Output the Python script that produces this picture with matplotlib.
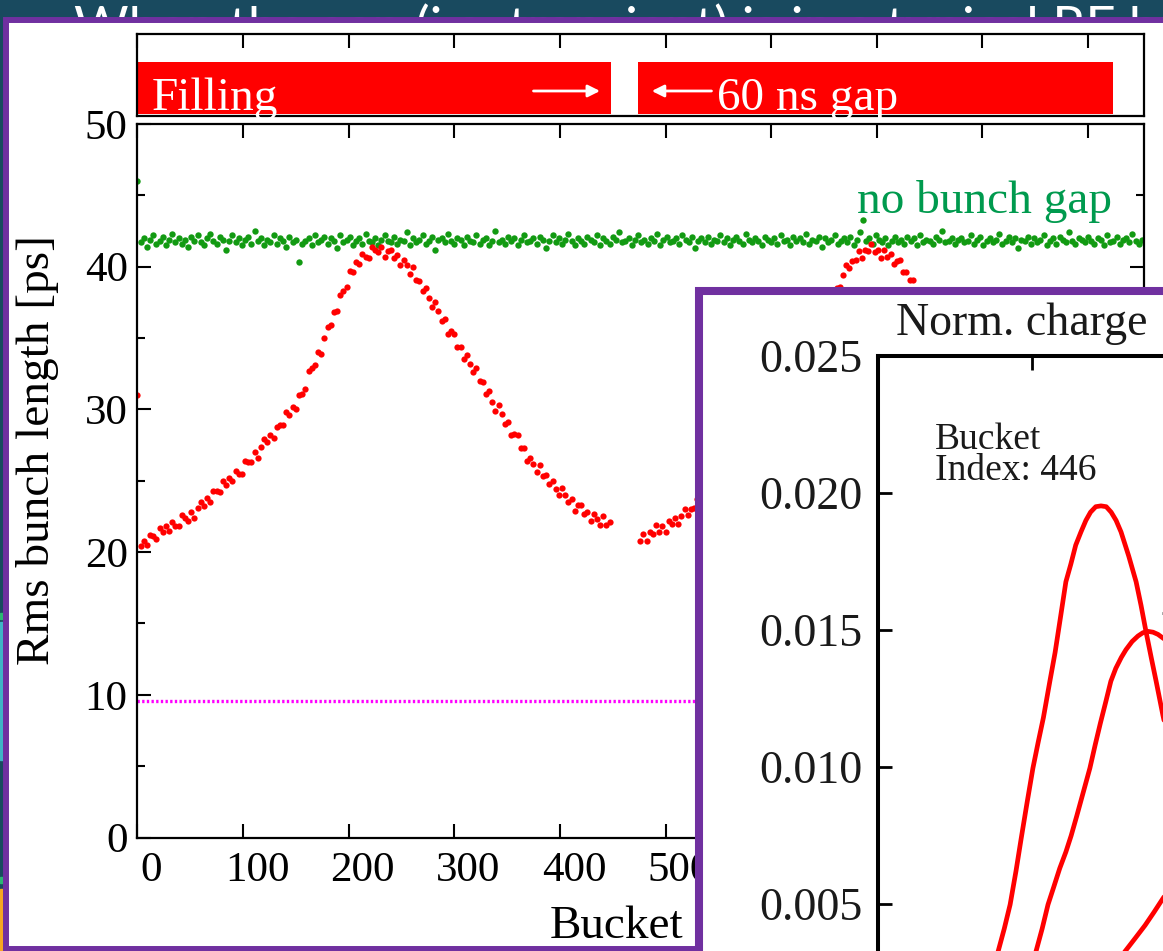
import numpy as np
import matplotlib
matplotlib.use("Agg")
import matplotlib.pyplot as plt
from matplotlib.patches import Rectangle
from matplotlib.ticker import MultipleLocator, FormatStrFormatter
from matplotlib.transforms import ScaledTranslation

plt.rcParams['font.family'] = ['Liberation Serif', 'DejaVu Serif']

W, H = 1163, 951          # picture size in pixels
DPI = 100

# ==============================================================================
# DATA
# ==============================================================================
n_buckets = 953
filling_start = [0, 474]
filling_end = [448, 924]

bucket_step = 3

# rms bunch length without gap, in tenths of ps, every 3rd bucket from 0
green_tenths = """
460 417 420 414 419 422 416 418 421 415 419 423 417 420 416 419 414 421 418 422
417 415 420 423 418 416 421 419 412 418 422 417 420 415 419 421 416 425 418 420
415 419 417 422 416 420 418 414 421 417 419 403 416 418 420 415 422 417 419 421
416 420 418 413 422 417 419 421 415 418 420 416 423 418 417 420 415 419 422 418
417 421 416 419 418 424 415 420 417 419 422 416 418 421 412 419 420 417 423 418
416 420 419 415 421 418 417 422 416 419 420 415 418 425 417 419 416 421 418 420
415 419 422 417 418 420 416 421 419 413 418 422 417 420 416 419 423 418 415 420
418 416 421 419 417 422 415 420 418 416 421 419 424 417 418 420 415 419 422 417
419 416 420 418 423 415 419 421 417 418 420 416 422 419 417 421 413 418 420 417
421 416 419 418 422 417 420 415 419 421 418 416 423 419 417 420 418 415 421 419
417 420 416 422 418 419 415 421 418 420 417 423 416 419 418 421 414 420 417 419
422 416 418 420 417 421 415 419 424 433 418 420 416 422 419 417 420 415 418 421
417 419 416 421 418 420 415 422 417 419 418 416 421 419 425 417 418 420 416 419
420 417 418 422 416 419 421 415 418 420 417 419 423 416 418 421 417 420 413 419
418 421 416 420 417 419 422 415 418 420 416 421 419 417 424 418 416 420 419 417
421 418 416 420 419 415 422 417 418 421 416 419 420 417 423 418 416 419
"""
green_rms = np.array(green_tenths.split(), float) / 10
green_bucket = np.arange(len(green_rms)) * bucket_step

# with 60 ns gap: first filled train (buckets 0..447)
red1_tenths = """
310 204 208 205 212 211 209 217 214 218 215 221 218 218 226 224 222 228 224 231
235 232 238 235 243 243 242 250 247 252 250 257 255 255 264 263 263 270 266 274
279 277 282 280 288 289 289 298 296 302 300 310 311 314 327 329 331 340 339 350
358 359 368 369 380 383 386 397 396 403 402 409 407 406 414 412 410 414 407 411
412 406 408 401 405 401 395 400 391 390 383 385 378 372 375 369 362 363 353 355
353 344 344 335 338 332 326 329 320 319 311 313 305 299 303 297 290 291 282 283
282 273 273 264 266 262 256 261 253 254 248 250 244 240 245 240 235 237 229 233
233 227 228 222 227 223 219 225 219 221
"""
red1_rms = np.array(red1_tenths.split(), float) / 10
red1_bucket = 0 + np.arange(len(red1_rms)) * bucket_step

# second filled train (buckets 476..923)
red2_tenths = """
208 213 208 214 213 219 214 218 214 222 220 224 220 225 230 226 230 231 237 234
241 241 247 243 247 244 253 251 256 253 259 264 260 265 267 273 270 278 279 285
282 287 285 295 293 299 297 303 311 310 317 322 331 330 340 343 353 353 362 363
376 377 385 386 394 401 399 404 405 411 406 412 411 416 410 412 406 412 407 409
402 404 405 396 396 391 391 382 384 379 379 369 369 360 364 356 356 347 347 347
337 336 331 332 322 323 317 317 308 307 298 302 295 294 286 287 286 277 275 271
271 261 264 259 261 252 253 246 250 244 245 238 240 241 233 233 231 233 226 229
226 229 221 223 217 223 218 220 214 217
"""
red2_rms = np.array(red2_tenths.split(), float) / 10
red2_bucket = 476 + np.arange(len(red2_rms)) * bucket_step

target_rms = 9.6

# inset: normalised charge profiles
prof_a_t = [-120, -116, -113, -111.0, -109, -107.1, -105.2, -103.5, -101.6, -99.7,
            -98, -96.3, -94.2, -92.5, -90.7, -89.0, -87.4, -85.8, -84.1, -82.5,
            -81.0, -79.3, -77.6, -75.9, -74.3, -72.7, -71.1, -68.6, -66.2, -64.6,
            -63.0, -61.3, -59.7, -57.5, -55, -52, -49, -46, -43, -40]
prof_a_q = [0.0010, 0.0017, 0.0025, 0.00327, 0.0041, 0.00498, 0.0062, 0.0074, 0.0087, 0.00996,
            0.0109, 0.0118, 0.01313, 0.01418, 0.0155, 0.01676, 0.0174, 0.0181, 0.01858, 0.0190,
            0.0193, 0.0195, 0.01953, 0.0195, 0.0193, 0.0190, 0.01858, 0.0177, 0.01676, 0.0159,
            0.01495, 0.0140, 0.01313, 0.01189, 0.0106, 0.0090, 0.0075, 0.0061, 0.0048, 0.0037]

prof_b_t = [-106, -104, -101.5, -98.7, -96.7, -94.8, -93, -91, -89, -87.3,
            -85.5, -83.3, -81.2, -79.5, -77.8, -76, -74.4, -72.8, -71, -69.5,
            -67.5, -65.6, -64, -62.3, -60.7, -59.1, -56.8, -54.5, -52, -49,
            -46, -43, -40, -37, -34]
prof_b_q = [0.0013, 0.0018, 0.0025, 0.00327, 0.0041, 0.00498, 0.0056, 0.0063, 0.0069, 0.00749,
            0.0082, 0.0091, 0.00996, 0.0108, 0.0116, 0.0124, 0.01313, 0.0136, 0.0140, 0.01428,
            0.01458, 0.01478, 0.01490, 0.01495, 0.01492, 0.01484, 0.01465, 0.0144, 0.0140, 0.0134,
            0.0126, 0.0117, 0.0107, 0.0096, 0.0085]

prof_c_t = [-84, -80, -77, -74, -71.5, -69.8, -66.5, -63.3, -60.4, -57.5, -54, -50, -46, -42]
prof_c_q = [0.0011, 0.0017, 0.0022, 0.0027, 0.0030, 0.00327, 0.00375, 0.00422, 0.0047, 0.0052,
            0.0058, 0.0064, 0.0070, 0.0076]


def px_box(left, top, right, bottom):
    """axes rectangle from pixel edges of the picture"""
    return [left / W, 1 - bottom / H, (right - left) / W, (bottom - top) / H]


fig = plt.figure(figsize=(W / DPI, H / DPI), dpi=DPI, facecolor='#194a5f')

# ==============================================================================
# SLIDE BACKGROUND + WHITE PANEL
# ==============================================================================
bg = fig.add_axes([0, 0, 1, 1], label='bg')
bg.set_xlim(0, W)
bg.set_ylim(H, 0)
bg.axis('off')
bg.text(74, 45, "When the gap (i.e. transient) is in a typical RF bucket",
        color='white', fontsize=38, family=['Lato', 'DejaVu Sans'],
        va='baseline', zorder=1)
for y0, h, c in [(613, 6, '#2bb673'), (622, 138, '#3fb4c6'),
                 (877, 6, '#2bb673'), (889, 62, '#f5a623')]:
    bg.add_patch(Rectangle((0, y0), 3, h, color=c, zorder=1))
bg.add_patch(Rectangle((6, 19.5), 1200, 929, facecolor='white',
                       edgecolor='#7030a0', lw=4.3, zorder=2))

# ==============================================================================
# MAIN PLOT: RMS BUNCH LENGTH
# ==============================================================================
ax = fig.add_axes(px_box(137.4, 124, 1144, 837.5), zorder=1)
ax.set_facecolor('none')
ax.plot(green_bucket, green_rms, 'o', ms=4.6, mew=0, color='#129a12')
ax.plot(red1_bucket, red1_rms, 'o', ms=4.5, mew=0, color='#ff0000')
ax.plot(red2_bucket, red2_rms, 'o', ms=4.5, mew=0, color='#ff0000')
ax.axhline(target_rms, color='#ff00ff', lw=2.4, dashes=(0.7, 0.7))

ax.set_xlim(0, n_buckets)
ax.set_ylim(0, 50)
ax.set_xticks(np.arange(0, 901, 100))
ax.yaxis.set_major_locator(MultipleLocator(10))
ax.yaxis.set_minor_locator(MultipleLocator(5))
ax.tick_params(which='both', direction='in', top=True, right=True,
               width=1.5, labelsize=31)
ax.tick_params(which='major', length=10)
ax.tick_params(which='minor', length=5.8)
ax.tick_params(axis='x', pad=10)
ax.tick_params(axis='y', pad=7)
for s in ax.spines.values():
    s.set_linewidth(1.6)

shift = ScaledTranslation(14 / DPI, 0, fig.dpi_scale_trans)
for lab in ax.get_xticklabels():
    lab.set_transform(lab.get_transform() + shift)

ax.set_ylabel('Rms bunch length [ps]', fontsize=34, va='center')
ax.yaxis.set_label_coords(-0.0988, 0.543)
ax.set_xlabel('Bucket', fontsize=34, ha='right', va='top')
ax.xaxis.set_label_coords(0.542, -0.096)

ax.text(923, 43.76, 'no bunch gap', color='#009a4e', fontsize=34,
        ha='right', va='baseline')

# ==============================================================================
# FILLING PATTERN STRIP
# ==============================================================================
axf = fig.add_axes(px_box(137.4, 34, 1144, 116), zorder=1)
axf.set_xlim(0, n_buckets)
axf.set_ylim(0, 1)
widths = np.subtract(filling_end, filling_start)
axf.bar(filling_start, 0.64, width=widths, bottom=0.02, align='edge',
        color='#ff0000')
axf.set_xticks(np.arange(0, 901, 100))
axf.set_yticks([])
axf.tick_params(axis='x', direction='in', top=True, bottom=False,
                labelbottom=False, length=10, width=1.5)
for s in axf.spines.values():
    s.set_linewidth(1.6)
axf.text(14, 0.073, 'Filling', color='white', fontsize=34, va='baseline')
axf.text(548.5, 0.073, '60 ns gap', color='white', fontsize=34, va='baseline')
arrow = dict(arrowstyle='-|>', color='white', lw=2, mutation_scale=18,
             shrinkA=0, shrinkB=0)
axf.annotate('', xy=(438, 0.305), xytext=(375, 0.305), arrowprops=arrow)
axf.annotate('', xy=(487, 0.305), xytext=(543.5, 0.305), arrowprops=arrow)

# ==============================================================================
# INSET: NORMALISED CHARGE
# ==============================================================================
ov = fig.add_axes([0, 0, 1, 1], zorder=3, label='overlay')
ov.set_xlim(0, W)
ov.set_ylim(H, 0)
ov.axis('off')
ov.add_patch(Rectangle((699, 290.5), 600, 800, facecolor='white',
                       edgecolor='#7030a0', lw=5.8))

axi = fig.add_axes(px_box(878, 356, 1802, 1041), zorder=4)
axi.set_facecolor('none')
for t, q in [(prof_a_t, prof_a_q), (prof_b_t, prof_b_q), (prof_c_t, prof_c_q)]:
    axi.plot(t, q, color='#ff0000', lw=3.4, solid_joinstyle='round',
             solid_capstyle='round')
axi.set_xlim(-150, 150)
axi.set_ylim(0, 0.025)
axi.set_xticks([-100, -50, 0, 50, 100])
axi.tick_params(axis='x', direction='in', top=True, labelbottom=False,
                length=10, width=2)
axi.yaxis.set_major_locator(MultipleLocator(0.005))
axi.yaxis.set_major_formatter(FormatStrFormatter('%.3f'))
axi.tick_params(axis='y', direction='in', length=10, width=2,
                labelsize=33, pad=11, labelcolor='#1a1a1a')
for s in axi.spines.values():
    s.set_linewidth(2.9)

axi.text(-144.2, 0.02575, 'Norm. charge', fontsize=33, color='#1a1a1a',
         va='baseline')
axi.text(-131.5, 0.0216, 'Bucket', fontsize=27, color='#1a1a1a', va='baseline')
axi.text(-131.5, 0.02047, 'Index: 446', fontsize=27, color='#1a1a1a',
         va='baseline')
axi.text(-58.4, 0.01553, '200', fontsize=27, color='#1a1a1a', va='baseline')

fig.savefig('out.png', dpi=DPI)
